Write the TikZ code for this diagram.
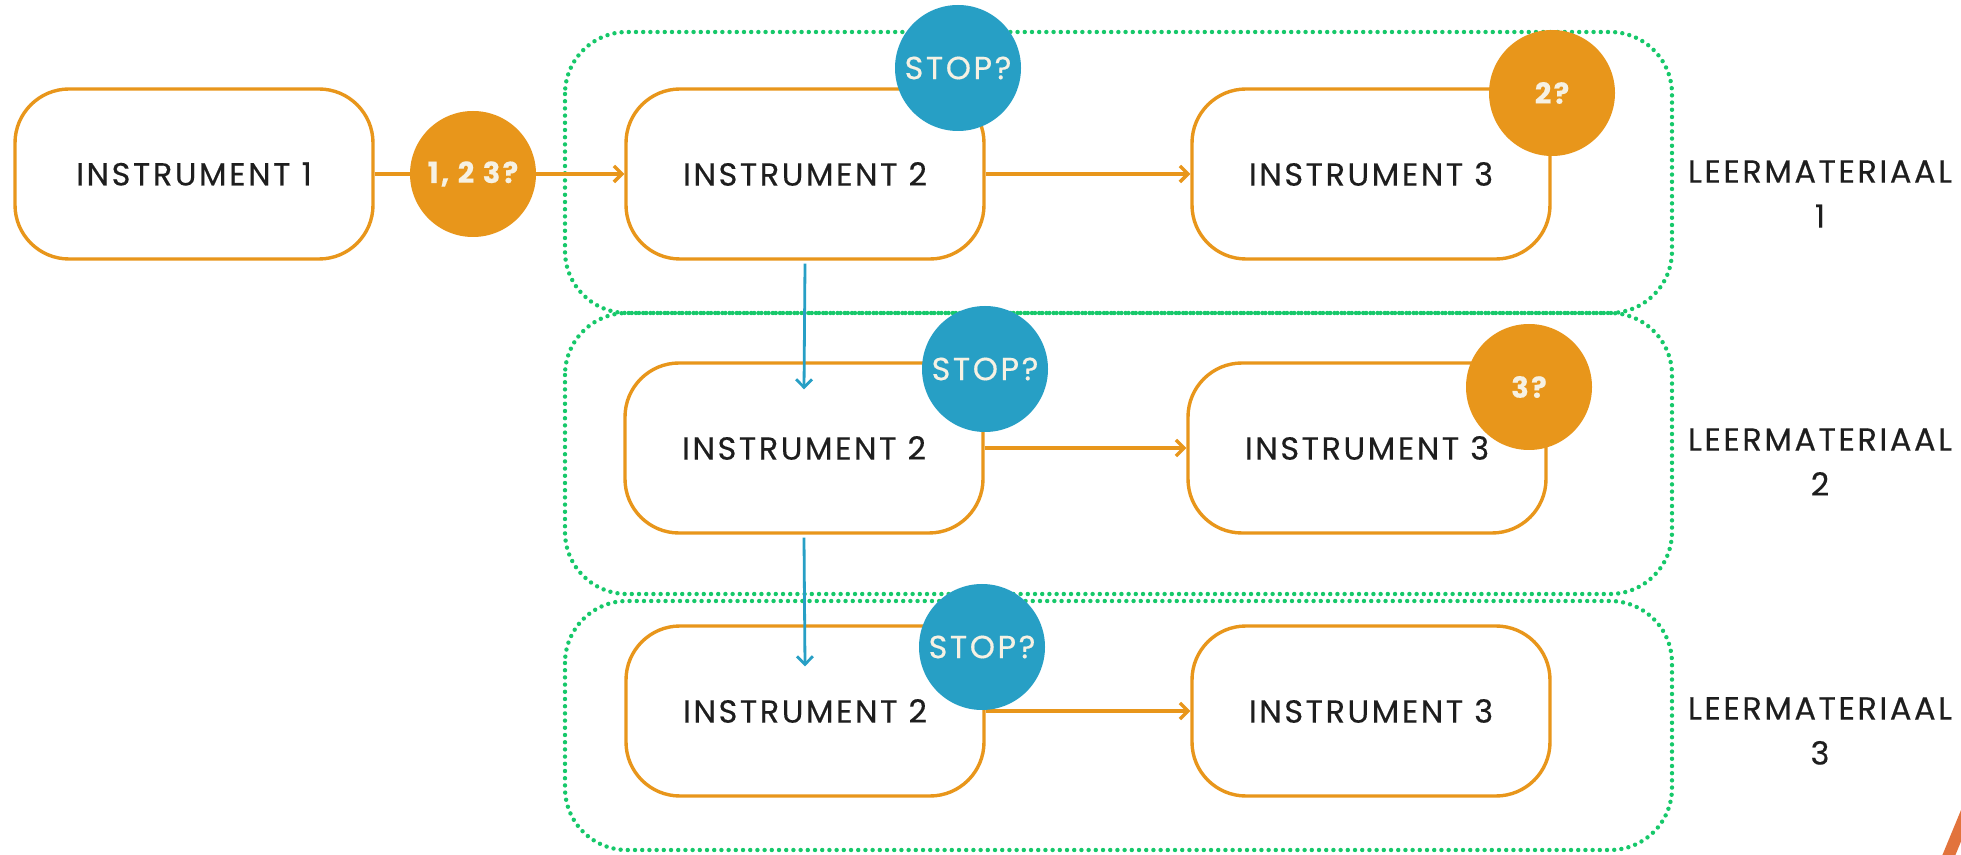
\documentclass[tikz,border=0pt]{standalone}
\usepackage{fontspec}
\setmainfont{Poppins}[LetterSpace=8,FakeBold=0.4]
\usetikzlibrary{arrows.meta}

\definecolor{instorange}{HTML}{E8961B}
\definecolor{stopblue}{HTML}{279FC5}
\definecolor{groupgreen}{HTML}{16C86A}
\definecolor{slashorange}{HTML}{E2733C}
\definecolor{labeltext}{HTML}{1E1E1E}
\definecolor{circletext}{HTML}{F6F1E3}

\tikzset{
  instbox/.style={draw=instorange,line width=1.7pt,fill=white,rounded corners=27pt,
    minimum width=179pt,minimum height=85pt,text=labeltext,font=\fontsize{16}{19}\selectfont},
  stopcirc/.style={circle,fill=stopblue,minimum size=63pt,inner sep=0pt,
    text=circletext,font=\fontsize{16}{19}\selectfont},
  qcirc/.style={circle,fill=instorange,minimum size=63pt,inner sep=0pt,
    text=circletext,font=\bfseries\fontsize{14.5}{18}\selectfont},
  groupbox/.style={draw=groupgreen,line width=2.2pt,line cap=round,
    dash pattern=on 0pt off 3.6pt,rounded corners=31pt},
  flow/.style={draw=instorange,line width=1.7pt},
  flowarrow/.style={flow,-{Straight Barb[length=4pt,width=8pt]}},
  stoparrow/.style={draw=stopblue,line width=1.4pt,-{Straight Barb[length=4pt,width=8pt]}},
  matlabel/.style={align=center,text=labeltext,font=\fontsize{16}{22.5}\selectfont}
}

\begin{document}
\begin{tikzpicture}[x=0.5pt,y=-0.5pt]
\clip (0,0) rectangle (1961,855);
\fill[white] (0,0) rectangle (1961,855);

% leermateriaal groups
\draw[groupbox] (565,32) rectangle (1672,313);
\draw[groupbox] (565,313) rectangle (1672,594);
\draw[groupbox] (565,601) rectangle (1672,850);

% instruments
\node[instbox] (i1) at (194,174) {INSTRUMENT 1};
\node[instbox] (i2a) at (805,174) {INSTRUMENT 2};
\node[instbox] (i3a) at (1371,174) {INSTRUMENT 3};
\node[instbox] (i2b) at (804,448) {INSTRUMENT 2};
\node[instbox] (i3b) at (1367,448) {INSTRUMENT 3};
\node[instbox] (i2c) at (805,711) {INSTRUMENT 2};
\node[instbox] (i3c) at (1371,711) {INSTRUMENT 3};

% first choice
\node[qcirc] (q1) at (473,174) {1, 2 3?};
\draw[flow] (i1.east) -- (q1.west);
\draw[flowarrow] (q1.east) -- (i2a.west);

% rows
\draw[flowarrow] (i2a.east) -- (i3a.west);
\draw[flowarrow] (i2b.east) -- (i3b.west);
\draw[flowarrow] (i2c.east) -- (i3c.west);

% to next leermateriaal
\draw[stoparrow] ([yshift=-1.5pt]i2a.south) -- ([yshift=-14pt]i2b.north);
\draw[stoparrow] ([yshift=-1.5pt]i2b.south) -- ([yshift=-21pt]i2c.north);

% stop / question circles
\node[stopcirc] (s1) at (958,68) {STOP?};
\node[stopcirc] (s2) at (985,369) {STOP?};
\node[stopcirc] (s3) at (982,647) {STOP?};
\node[qcirc] (q2) at (1552,93) {2?};
\node[qcirc] (q3) at (1529,387) {3?};

% labels
\node[matlabel] (m1) at (1820,194) {LEERMATERIAAL\\1};
\node[matlabel] (m2) at (1820,462) {LEERMATERIAAL\\2};
\node[matlabel] (m3) at (1820,731) {LEERMATERIAAL\\3};

% corner slash
\fill[slashorange] (1963.5,804) -- (1942,856) -- (1955,856) -- (1976.5,804) -- cycle;

\end{tikzpicture}
\end{document}
